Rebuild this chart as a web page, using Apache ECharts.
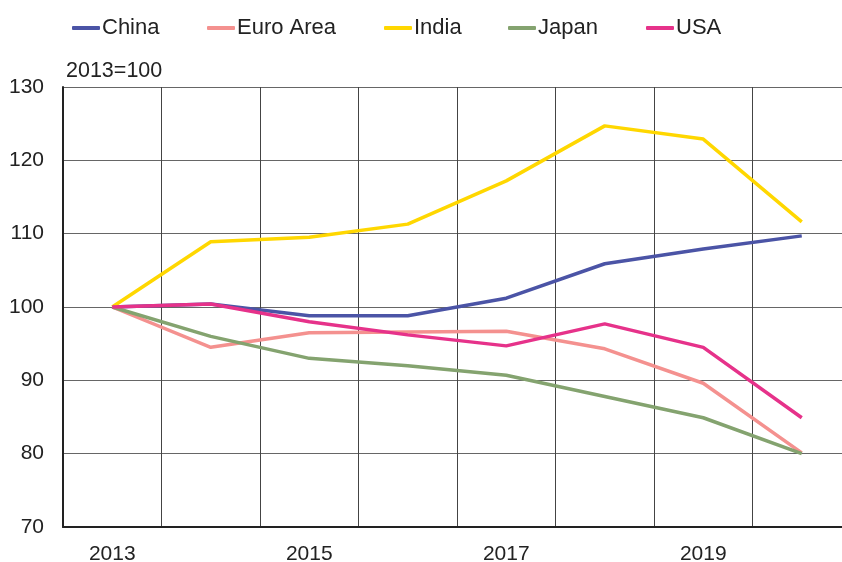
<!DOCTYPE html>
<html>
<head>
<meta charset="utf-8">
<script src="https://cdn.jsdelivr.net/npm/echarts@6/dist/echarts.min.js"></script>
<style>
  html, body { margin: 0; padding: 0; background: #fff; }
  #chart { width: 842px; height: 562px; }
</style>
</head>
<body>
<div id="chart"></div>
<script>
var years = ['2013', '2014', '2015', '2016', '2017', '2018', '2019', '2020'];
var china = [100, 100.4, 98.8, 98.8, 101.2, 105.9, 107.9, 109.7];
var euroArea = [100, 94.5, 96.5, 96.6, 96.7, 94.3, 89.6, 80.1];
var india = [100, 108.9, 109.5, 111.3, 117.2, 124.7, 122.9, 111.6];
var japan = [100, 96.0, 93.0, 92.0, 90.7, 87.8, 84.9, 80.0];
var usa = [100, 100.4, 98.0, 96.2, 94.7, 97.7, 94.5, 84.9];

var names = ['China', 'Euro Area', 'India', 'Japan', 'USA'];
var colors = ['#4b54a6', '#f4918f', '#ffd700', '#84a36f', '#e6328a'];
var values = [china, euroArea, india, japan, usa];
var legendLeft = [72, 207, 384, 508, 646];

var font = 'Liberation Sans, Arial, sans-serif';

var chart = echarts.init(document.getElementById('chart'));

// one legend per item so each can sit where it does in the picture
var legends = names.map(function (n, i) {
    return {
        data: [n],
        left: legendLeft[i],
        top: 17,
        icon: 'roundRect',
        itemWidth: 28,
        itemHeight: 4,
        itemGap: 0,
        padding: 0,
        textStyle: { fontFamily: font, fontSize: 22, color: '#222', padding: [0, 0, 0, -3] }
    };
});

var series = names.map(function (n, i) {
    return {
        name: n,
        type: 'line',
        data: values[i],
        symbol: 'none',
        color: colors[i],
        lineStyle: { width: 3.5, color: colors[i] }
    };
});

var option = {
    animation: false,
    title: {
        text: '2013=100',
        left: 66,
        top: 60,
        padding: 0,
        textStyle: { fontFamily: font, fontSize: 21.5, fontWeight: 'normal', color: '#222' }
    },
    legend: legends,
    // plot runs past the right edge of the picture, as in the original
    grid: {
        left: 63,
        width: 788,
        top: 87,
        bottom: 35,
        outerBoundsMode: 'none'
    },
    xAxis: {
        type: 'category',
        data: years,
        boundaryGap: true,
        axisLine: { lineStyle: { color: '#222', width: 2 } },
        axisTick: { show: false },
        axisLabel: { interval: 1, margin: 17, fontFamily: font, fontSize: 21, color: '#222' },
        splitLine: { show: true, interval: 0, lineStyle: { color: '#444', width: 1 } }
    },
    yAxis: {
        type: 'value',
        min: 70,
        max: 130,
        interval: 10,
        axisLine: { show: true, lineStyle: { color: '#222', width: 2 } },
        axisTick: { show: false },
        axisLabel: { margin: 19, fontFamily: font, fontSize: 21, color: '#222' },
        splitLine: { show: true, lineStyle: { color: '#666', width: 1 } }
    },
    series: series
};

chart.setOption(option);
</script>
</body>
</html>
